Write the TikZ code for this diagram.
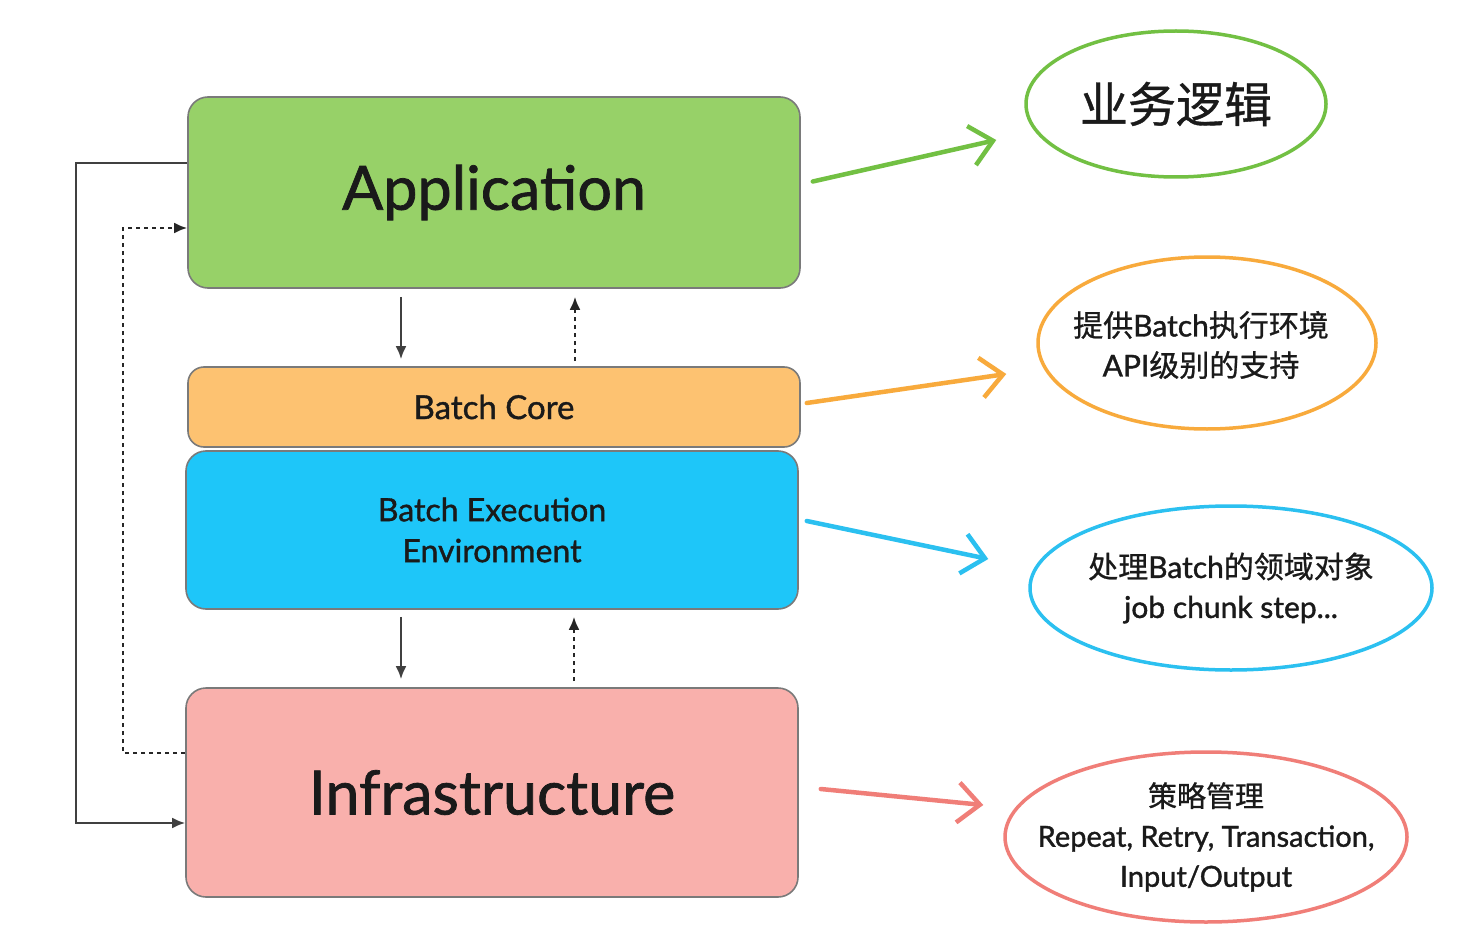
\documentclass[tikz,border=0pt]{standalone}
\usepackage{fontspec}
\setmainfont{Lato}[FakeBold=1.2]
\newfontfamily\cjk{Noto Sans CJK SC}[FakeBold=0.8]
\usetikzlibrary{arrows.meta,shapes.geometric,calc}
\definecolor{appfill}{HTML}{97D168}
\definecolor{corefill}{HTML}{FDC271}
\definecolor{envfill}{HTML}{1EC6F9}
\definecolor{infrafill}{HTML}{F9B0AC}
\definecolor{boxline}{HTML}{7A7A7A}
\definecolor{txt}{HTML}{1A1A1A}
\definecolor{gsk}{HTML}{72C043}
\definecolor{osk}{HTML}{F8AA3C}
\definecolor{bsk}{HTML}{2BC0F0}
\definecolor{rsk}{HTML}{F07E78}
\tikzset{
  layer/.style={draw=boxline, line width=1.6pt, rounded corners=20pt, inner sep=0pt, text=txt, align=center},
  conn/.style={draw=black!75, line width=2.4pt, -{Latex[length=13pt,width=11pt]}},
  dconn/.style={draw=black!85, line width=2.4pt, dash pattern=on 4pt off 4pt, -{Latex[length=13pt,width=11pt]}},
  sketch/.style={line width=4.5pt, line cap=round, line join=round, -{Straight Barb[length=22pt,width=40pt,line width=4.5pt]}},
  bubble/.style={ellipse, line width=3.5pt, inner sep=0pt},
  btext/.style={text=txt, align=center, inner sep=0pt},
}
\begin{document}
\begin{tikzpicture}[x=1pt,y=-1pt]
\useasboundingbox[fill=white] (0,0) rectangle (1464,944);
% layers
\node[layer, fill=appfill, minimum width=612pt, minimum height=191pt, font=\fontsize{61}{66}\selectfont] (app) at (494,192.5) {Application};
\node[layer, fill=corefill, minimum width=612pt, minimum height=80pt, rounded corners=16pt, font=\fontsize{33}{36}\selectfont] (core) at (494,407) {Batch Core};
\node[layer, fill=envfill, minimum width=612pt, minimum height=158pt, font=\fontsize{32}{41}\selectfont] (env) at (492,530) {Batch Execution\\Environment};
\node[layer, fill=infrafill, minimum width=612pt, minimum height=209pt, font=\fontsize{61}{66}\selectfont] (infra) at (492,792.5) {Infrastructure};
% vertical arrows
\draw[conn, shorten <=8pt, shorten >=7pt] ([shift={(-93,0)}]app.south) -- ([shift={(-93,0)}]core.north);
\draw[dconn, shorten <=5pt, shorten >=8pt] ([shift={(81,0)}]core.north) -- ([shift={(81,0)}]app.south);
\draw[conn, shorten <=7pt, shorten >=8pt] ([shift={(-91,0)}]env.south) -- ([shift={(-91,0)}]infra.north);
\draw[dconn, shorten <=6pt, shorten >=7pt] ([shift={(82,0)}]infra.north) -- ([shift={(82,0)}]env.south);
% side loops
\draw[conn] ([shift={(0,-29.5)}]app.west) -- ++(-111,0) |- ([shift={(0,30.5)}]infra.west);
\draw[dconn] ([shift={(0,-39.5)}]infra.west) -- ++(-62,0) |- ([shift={(0,35.5)}]app.west);
% bubbles
\node[bubble, draw=gsk, minimum width=300pt, minimum height=146pt] (b1) at (1176,104) {};
\node[btext, font=\cjk\fontsize{48}{52}\selectfont] (t1) at (b1) {业务逻辑};
\node[bubble, draw=osk, minimum width=338pt, minimum height=172pt] (b2) at (1207,343) {};
\node[btext, font=\fontsize{30}{40}\selectfont] (t2) at ([shift={(-6,2)}]b2.center) {{\cjk 提供}Batch{\cjk 执行环境}\\API{\cjk 级别的支持}};
\node[bubble, draw=bsk, minimum width=402pt, minimum height=164pt] (b3) at (1231,588) {};
\node[btext, font=\fontsize{30}{40}\selectfont] (t3) at (b3) {{\cjk 处理}Batch{\cjk 的领域对象}\\job chunk step...};
\node[bubble, draw=rsk, minimum width=402pt, minimum height=170pt] (b4) at (1206,837) {};
\node[btext, font=\fontsize{29}{40}\selectfont] (t4) at (b4) {{\cjk 策略管理}\\Repeat, Retry, Transaction,\\Input/Output};
% sketch arrows
\draw[sketch, draw=gsk] ([shift={(12,-11)}]app.east) -- ([shift={(-28,36)}]b1.west);
\draw[sketch, draw=osk] ([shift={(6,-4)}]core.east) -- ([shift={(-30,31)}]b2.west);
\draw[sketch, draw=bsk] ([shift={(8,-9)}]env.east) -- ([shift={(-40,-29)}]b3.west);
\draw[sketch, draw=rsk] ([shift={(22,-3.5)}]infra.east) -- ([shift={(-20,-32)}]b4.west);
\end{tikzpicture}
\end{document}
